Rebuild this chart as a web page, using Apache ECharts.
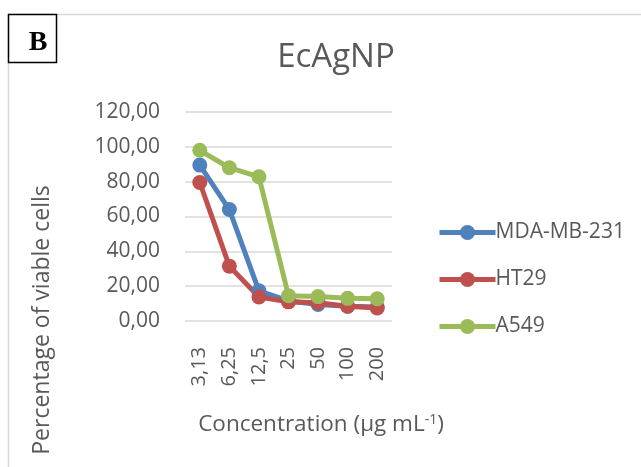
<!DOCTYPE html>
<html><head><meta charset="utf-8">
<script src="https://cdn.jsdelivr.net/npm/echarts@6/dist/echarts.min.js"></script>
<style>html,body{margin:0;padding:0;background:#fff}#c{width:641px;height:467px}</style>
</head><body><div id="c"></div>
<script>
const categories = ['3,13','6,25','12,5','25','50','100','200'];
const mdaMb231 = [89.5, 64, 17.3, 11.5, 9.5, 8.5, 8];
const ht29 = [79.5, 31.5, 13.8, 11, 10.5, 8.5, 7.5];
const a549 = [98, 88, 82.8, 14.5, 14, 13, 12.8];
const seriesNames = ['MDA-MB-231','HT29','A549'];
const colors = ['#4F81BD','#C0504D','#9BBB59'];
const font = 'Open Sans';
const grey = '#595959';
const chart = echarts.init(document.getElementById('c'));
const mk = (name, data, color) => ({
  name, type:'line', data, color,
  symbol:'circle', symbolSize:15,
  lineStyle:{width:5, color}, itemStyle:{color},
  emphasis:{disabled:true}
});
chart.setOption({
  animation:false,
  textStyle:{fontFamily:font},
  title:{text:'EcAgNP', left:331, top:36, textAlign:'center',
    textStyle:{fontFamily:font, fontSize:33, fontWeight:'normal', color:grey}},
  grid:{left:185, right:249, top:112, bottom:146},
  legend:{orient:'vertical', left:432, top:217, itemWidth:56, itemHeight:19, itemGap:26,
    data:seriesNames, lineStyle:{width:5},
    textStyle:{fontFamily:font, fontSize:21, color:grey, padding:[0,0,0,-5]}},
  xAxis:{type:'category', data:categories, boundaryGap:true,
    axisLine:{show:false}, axisTick:{show:false},
    axisLabel:{rotate:90, fontSize:20, color:grey, margin:26, fontFamily:font}},
  yAxis:{type:'value', min:0, max:120, interval:20,
    axisLine:{show:false}, axisTick:{show:false},
    splitLine:{lineStyle:{color:'#D9D9D9', width:1.5}},
    axisLabel:{fontSize:21, color:grey, margin:25, fontFamily:font,
      formatter:v=>v.toFixed(2).replace('.',',')}},
  series:[mk(seriesNames[0], mdaMb231, colors[0]), mk(seriesNames[1], ht29, colors[1]), mk(seriesNames[2], a549, colors[2])],
  graphic:[
    {type:'line', shape:{x1:8,y1:14.5,x2:641,y2:14.5}, style:{stroke:'#D9D9D9', lineWidth:1.5}},
    {type:'line', shape:{x1:8.5,y1:14,x2:8.5,y2:467}, style:{stroke:'#D9D9D9', lineWidth:1.5}},
    {type:'rect', shape:{x:8.5,y:14.5,width:48,height:48}, style:{fill:'#fff', stroke:'#000', lineWidth:1.5}},
    {type:'text', x:38, y:43, style:{text:'B', font:'bold 28px "Liberation Serif"', fill:'#000', align:'center', verticalAlign:'middle'}},
    {type:'text', x:321, y:425, style:{text:'Concentration (µg mL{s|-1})', font:'22.5px "Open Sans"', fill:grey, align:'center', verticalAlign:'middle',
      rich:{s:{fontSize:14, fontFamily:font, fill:grey, verticalAlign:'top', padding:[0,0,10,0]}}}},
    {type:'text', x:42, y:320, rotation:Math.PI/2, style:{text:'Percentage of viable cells', font:'23px "Open Sans"', fill:grey, align:'center', verticalAlign:'middle'}}
  ]
});
</script></body></html>
